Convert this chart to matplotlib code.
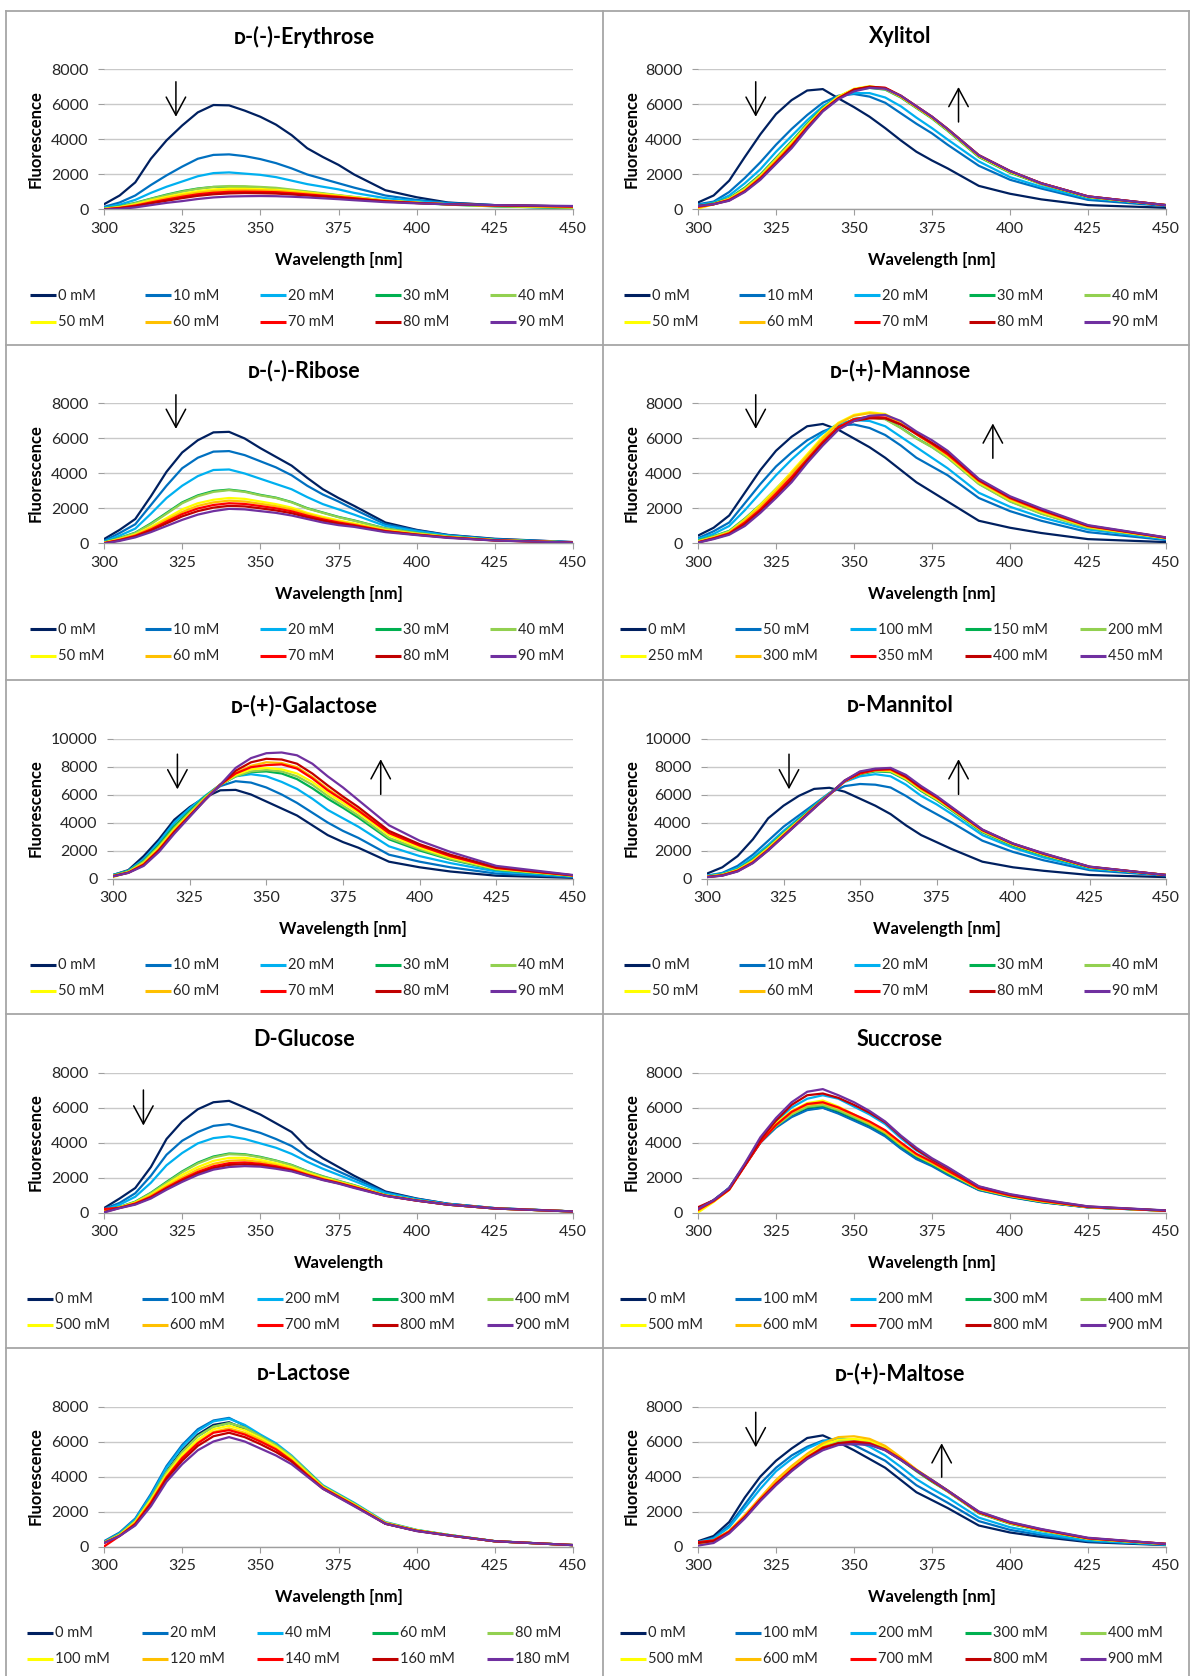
import matplotlib
matplotlib.use("Agg")

import matplotlib.pyplot as plt
from matplotlib.lines import Line2D

plt.rcParams["font.family"] = ["Lato", "DejaVu Sans"]

# ---------------------------------------------------------
# data: emission spectra, fluorescence vs wavelength [nm]
# ---------------------------------------------------------
wavelength = [300, 305, 310, 315, 320, 325, 330, 335, 340, 345, 350,
              355, 360, 365, 370, 375, 380, 390, 400, 410, 425, 450]

series_colors = ["#002060", "#0070C0", "#00B0F0", "#00B050", "#92D050",
                 "#FFFF00", "#FFC000", "#FF0000", "#C00000", "#7030A0"]

erythrose_conc = [0, 10, 20, 30, 40, 50, 60, 70, 80, 90]
erythrose = [
    [300, 800, 1550, 2900, 3950, 4800, 5550, 5970, 5950, 5650, 5300, 4850, 4250, 3500, 3000, 2550, 2000, 1100, 700, 400, 250, 170],
    [150, 400, 800, 1400, 1950, 2450, 2900, 3120, 3150, 3050, 2880, 2650, 2350, 2000, 1750, 1500, 1250, 800, 550, 380, 250, 170],
    [100, 280, 550, 950, 1300, 1600, 1900, 2080, 2120, 2050, 1980, 1850, 1650, 1450, 1300, 1150, 950, 650, 480, 330, 200, 60],
    [60, 180, 380, 620, 850, 1050, 1200, 1290, 1300, 1290, 1250, 1200, 1100, 1000, 900, 800, 700, 500, 380, 280, 180, 80],
    [50, 160, 360, 600, 820, 1020, 1180, 1290, 1340, 1330, 1290, 1240, 1140, 1030, 930, 820, 720, 510, 390, 290, 190, 100],
    [30, 130, 300, 520, 720, 900, 1050, 1150, 1200, 1200, 1170, 1130, 1060, 970, 880, 790, 700, 500, 390, 300, 210, 130],
    [20, 110, 260, 460, 650, 820, 960, 1060, 1110, 1120, 1100, 1070, 1000, 920, 840, 760, 670, 490, 380, 300, 220, 150],
    [10, 90, 220, 400, 570, 730, 870, 960, 1010, 1020, 1010, 990, 930, 860, 790, 720, 640, 470, 370, 300, 230, 170],
    [0, 70, 190, 350, 500, 650, 780, 870, 920, 940, 930, 910, 860, 800, 740, 680, 610, 460, 370, 300, 240, 180],
    [0, 30, 120, 250, 380, 480, 600, 690, 740, 760, 770, 760, 730, 690, 640, 590, 530, 420, 350, 300, 250, 200],
]

xylitol_conc = [0, 10, 20, 30, 40, 50, 60, 70, 80, 90]
xylitol = [
    [400, 800, 1650, 3000, 4300, 5450, 6250, 6800, 6880, 6350, 5850, 5300, 4650, 3950, 3300, 2800, 2350, 1350, 900, 580, 250, 100],
    [300, 450, 1000, 1800, 2700, 3700, 4600, 5400, 6100, 6500, 6600, 6450, 6100, 5500, 4900, 4350, 3700, 2500, 1700, 1200, 550, 200],
    [250, 400, 800, 1500, 2300, 3300, 4200, 5100, 5900, 6450, 6650, 6650, 6400, 5900, 5250, 4650, 4000, 2750, 1850, 1300, 650, 250],
    [200, 350, 650, 1250, 2000, 2950, 3900, 4900, 5800, 6450, 6850, 6950, 6850, 6400, 5800, 5200, 4500, 3000, 2100, 1450, 700, 250],
    [150, 330, 620, 1200, 1950, 2900, 3850, 4850, 5750, 6450, 6850, 6980, 6880, 6450, 5850, 5250, 4550, 3050, 2150, 1480, 720, 250],
    [50, 300, 600, 1150, 1900, 2850, 3800, 4800, 5750, 6450, 6900, 7050, 6900, 6450, 5850, 5250, 4550, 3050, 2150, 1480, 720, 250],
    [100, 300, 580, 1100, 1850, 2800, 3700, 4750, 5700, 6400, 6850, 7000, 6900, 6450, 5850, 5250, 4600, 3100, 2180, 1500, 740, 250],
    [150, 300, 550, 1050, 1800, 2700, 3650, 4700, 5650, 6350, 6850, 7000, 6950, 6500, 5900, 5300, 4600, 3100, 2200, 1500, 750, 250],
    [200, 300, 520, 1030, 1750, 2650, 3600, 4650, 5650, 6350, 6850, 7020, 6950, 6500, 5900, 5300, 4600, 3100, 2200, 1500, 750, 250],
    [200, 300, 500, 1000, 1700, 2600, 3500, 4600, 5600, 6300, 6750, 6950, 6900, 6500, 5900, 5300, 4600, 3100, 2200, 1500, 750, 250],
]

ribose_conc = [0, 10, 20, 30, 40, 50, 60, 70, 80, 90]
ribose = [
    [250, 780, 1400, 2700, 4100, 5200, 5900, 6350, 6380, 6000, 5450, 4950, 4450, 3750, 3100, 2600, 2150, 1200, 780, 490, 270, 80],
    [150, 600, 1100, 2200, 3300, 4300, 4900, 5250, 5280, 5050, 4700, 4350, 3900, 3300, 2800, 2400, 1950, 1100, 750, 480, 250, 80],
    [100, 450, 850, 1700, 2600, 3300, 3850, 4200, 4230, 4000, 3700, 3400, 3100, 2650, 2250, 1950, 1650, 1000, 700, 450, 220, 60],
    [70, 320, 620, 1150, 1750, 2350, 2750, 3000, 3080, 2980, 2780, 2620, 2370, 2020, 1770, 1520, 1320, 860, 610, 400, 200, 60],
    [50, 300, 600, 1100, 1700, 2300, 2700, 2950, 3050, 2950, 2750, 2600, 2350, 2000, 1750, 1500, 1300, 850, 600, 400, 200, 60],
    [40, 250, 520, 950, 1450, 1950, 2300, 2500, 2600, 2550, 2400, 2250, 2050, 1750, 1520, 1320, 1150, 770, 550, 370, 190, 55],
    [30, 230, 480, 880, 1350, 1800, 2150, 2350, 2450, 2400, 2270, 2130, 1950, 1680, 1450, 1260, 1100, 740, 530, 360, 185, 55],
    [20, 200, 440, 800, 1250, 1680, 2000, 2200, 2300, 2260, 2140, 2010, 1840, 1590, 1380, 1200, 1050, 710, 510, 350, 180, 50],
    [10, 180, 400, 740, 1150, 1550, 1850, 2050, 2150, 2120, 2010, 1890, 1730, 1500, 1300, 1130, 1000, 690, 500, 340, 175, 50],
    [0, 150, 350, 650, 1000, 1350, 1650, 1850, 1980, 1950, 1850, 1750, 1600, 1400, 1200, 1050, 950, 650, 480, 320, 170, 50],
]

mannose_conc = [0, 50, 100, 150, 200, 250, 300, 350, 400, 450]
mannose = [
    [450, 900, 1600, 2900, 4200, 5300, 6100, 6700, 6830, 6500, 6000, 5500, 4900, 4200, 3500, 2950, 2400, 1300, 900, 600, 250, 80],
    [300, 700, 1200, 2300, 3400, 4400, 5200, 5900, 6400, 6750, 6800, 6600, 6200, 5600, 4900, 4400, 3900, 2600, 1850, 1300, 650, 200],
    [250, 550, 1000, 1900, 2900, 3900, 4800, 5600, 6300, 6850, 7050, 7000, 6700, 6100, 5500, 4900, 4300, 2900, 2100, 1500, 800, 250],
    [180, 420, 720, 1420, 2220, 3120, 4030, 4930, 5930, 6630, 7120, 7220, 7120, 6620, 6020, 5520, 4920, 3420, 2420, 1720, 910, 300],
    [150, 400, 700, 1400, 2200, 3100, 4000, 4900, 5900, 6600, 7100, 7200, 7100, 6600, 6000, 5500, 4900, 3400, 2400, 1700, 900, 300],
    [100, 350, 650, 1350, 2200, 3100, 4100, 5100, 6100, 6900, 7350, 7500, 7400, 6900, 6250, 5650, 5000, 3500, 2500, 1800, 950, 300],
    [80, 320, 620, 1300, 2100, 3000, 4000, 5000, 6000, 6850, 7300, 7450, 7350, 6850, 6250, 5650, 5050, 3550, 2550, 1850, 970, 320],
    [70, 300, 580, 1200, 1950, 2850, 3800, 4800, 5800, 6650, 7100, 7250, 7200, 6800, 6250, 5700, 5100, 3600, 2600, 1900, 1000, 330],
    [60, 280, 540, 1100, 1850, 2700, 3650, 4700, 5700, 6550, 7000, 7150, 7150, 6800, 6300, 5750, 5200, 3650, 2650, 1950, 1020, 340],
    [50, 250, 500, 1000, 1750, 2600, 3500, 4600, 5600, 6500, 7000, 7300, 7350, 7000, 6400, 5900, 5300, 3700, 2700, 2000, 1050, 350],
]

galactose_conc = [0, 10, 20, 30, 40, 50, 60, 70, 80, 90]
galactose = [
    [250, 600, 1600, 2800, 4200, 5100, 5800, 6300, 6330, 6000, 5500, 5000, 4500, 3800, 3100, 2600, 2200, 1200, 800, 500, 200, 50],
    [250, 550, 1400, 2600, 4000, 5000, 5800, 6600, 6950, 6850, 6500, 6000, 5400, 4700, 4000, 3400, 2900, 1700, 1200, 800, 350, 100],
    [250, 550, 1350, 2600, 4000, 5000, 5900, 6700, 7300, 7450, 7300, 6900, 6400, 5700, 4900, 4300, 3700, 2300, 1600, 1100, 500, 150],
    [220, 520, 1250, 2400, 3750, 4800, 5850, 6700, 7300, 7600, 7650, 7500, 7100, 6450, 5700, 5050, 4350, 2800, 2000, 1350, 620, 180],
    [200, 500, 1200, 2300, 3600, 4700, 5800, 6700, 7300, 7650, 7750, 7650, 7300, 6700, 5900, 5200, 4500, 2900, 2100, 1400, 650, 200],
    [100, 450, 1100, 2200, 3500, 4600, 5700, 6700, 7400, 7800, 7900, 7800, 7500, 6900, 6100, 5400, 4700, 3100, 2200, 1500, 700, 200],
    [180, 430, 1050, 2100, 3400, 4500, 5650, 6700, 7550, 8050, 8300, 8250, 7950, 7250, 6400, 5650, 4900, 3250, 2350, 1600, 750, 220],
    [170, 420, 1000, 2050, 3350, 4500, 5650, 6700, 7500, 7950, 8100, 8150, 7850, 7150, 6300, 5600, 4850, 3250, 2350, 1600, 750, 220],
    [160, 410, 950, 2000, 3300, 4450, 5600, 6700, 7700, 8300, 8550, 8500, 8200, 7500, 6650, 5850, 5100, 3400, 2450, 1700, 800, 230],
    [150, 400, 900, 1900, 3200, 4400, 5600, 6700, 7900, 8600, 8950, 9000, 8800, 8200, 7300, 6500, 5600, 3800, 2700, 1900, 900, 250],
]

mannitol_conc = [0, 10, 20, 30, 40, 50, 60, 70, 80, 90]
mannitol = [
    [350, 800, 1600, 2800, 4300, 5200, 5900, 6400, 6480, 6200, 5700, 5200, 4600, 3800, 3100, 2600, 2100, 1200, 800, 550, 250, 100],
    [200, 400, 900, 1700, 2700, 3700, 4500, 5300, 6100, 6600, 6750, 6700, 6500, 5900, 5200, 4600, 4000, 2700, 1900, 1300, 600, 200],
    [200, 350, 750, 1500, 2400, 3400, 4300, 5200, 6100, 6900, 7300, 7450, 7300, 6700, 5900, 5300, 4600, 3100, 2200, 1500, 700, 250],
    [150, 300, 650, 1350, 2250, 3250, 4200, 5150, 6050, 6950, 7450, 7650, 7600, 7050, 6250, 5600, 4850, 3300, 2350, 1650, 780, 250],
    [140, 280, 630, 1300, 2200, 3200, 4150, 5100, 6050, 6950, 7500, 7700, 7650, 7100, 6300, 5650, 4900, 3350, 2400, 1700, 800, 250],
    [130, 260, 600, 1250, 2150, 3150, 4100, 5050, 6000, 6950, 7500, 7750, 7700, 7150, 6350, 5700, 4950, 3400, 2430, 1720, 810, 250],
    [120, 240, 580, 1200, 2100, 3100, 4050, 5050, 6000, 6950, 7550, 7750, 7750, 7200, 6400, 5750, 5000, 3420, 2450, 1740, 820, 250],
    [110, 230, 550, 1150, 2050, 3050, 4050, 5050, 6000, 6950, 7500, 7750, 7800, 7250, 6450, 5800, 5000, 3450, 2480, 1760, 830, 250],
    [105, 210, 520, 1120, 2020, 3020, 4020, 5020, 6000, 7000, 7600, 7800, 7850, 7300, 6500, 5850, 5050, 3480, 2490, 1780, 840, 250],
    [100, 200, 500, 1100, 2000, 3000, 4000, 5000, 6000, 7000, 7650, 7850, 7900, 7400, 6600, 5900, 5100, 3500, 2500, 1800, 850, 250],
]

glucose_conc = [0, 100, 200, 300, 400, 500, 600, 700, 800, 900]
glucose = [
    [250, 800, 1400, 2600, 4200, 5200, 5900, 6300, 6380, 6000, 5600, 5100, 4600, 3700, 3100, 2600, 2100, 1200, 800, 500, 250, 60],
    [200, 550, 1100, 2100, 3300, 4100, 4600, 4950, 5050, 4800, 4550, 4200, 3800, 3200, 2750, 2350, 1950, 1150, 780, 500, 250, 60],
    [150, 450, 900, 1700, 2700, 3400, 3950, 4250, 4350, 4200, 3950, 3700, 3350, 2900, 2500, 2150, 1800, 1100, 750, 480, 240, 60],
    [110, 320, 620, 1130, 1750, 2350, 2850, 3200, 3370, 3330, 3180, 2970, 2720, 2370, 2070, 1810, 1560, 1000, 700, 450, 230, 60],
    [100, 300, 600, 1100, 1700, 2300, 2800, 3150, 3330, 3300, 3150, 2950, 2700, 2350, 2050, 1800, 1550, 1000, 700, 450, 230, 60],
    [80, 290, 570, 1020, 1600, 2150, 2600, 2950, 3120, 3130, 3000, 2820, 2590, 2270, 1990, 1750, 1510, 980, 690, 450, 230, 60],
    [60, 280, 540, 960, 1500, 2000, 2450, 2780, 2960, 2990, 2880, 2720, 2500, 2200, 1940, 1720, 1480, 970, 690, 450, 230, 60],
    [200, 270, 510, 900, 1420, 1900, 2320, 2640, 2820, 2860, 2780, 2640, 2440, 2160, 1900, 1690, 1450, 960, 680, 450, 230, 60],
    [30, 260, 480, 850, 1360, 1820, 2230, 2540, 2720, 2760, 2700, 2570, 2390, 2120, 1870, 1670, 1430, 960, 680, 450, 230, 60],
    [0, 250, 450, 800, 1300, 1750, 2150, 2450, 2600, 2650, 2620, 2500, 2350, 2100, 1850, 1650, 1400, 950, 680, 450, 230, 60],
]

succrose_conc = [0, 100, 200, 300, 400, 500, 600, 700, 800, 900]
succrose = [
    [200, 700, 1400, 2700, 4000, 4900, 5500, 5900, 6000, 5700, 5300, 4900, 4400, 3700, 3100, 2700, 2200, 1300, 900, 600, 300, 100],
    [200, 700, 1400, 2700, 4000, 4850, 5450, 5850, 5980, 5650, 5250, 4850, 4350, 3650, 3050, 2650, 2150, 1280, 880, 590, 290, 100],
    [200, 700, 1400, 2750, 4200, 5200, 6000, 6500, 6700, 6500, 6050, 5600, 5050, 4250, 3550, 3000, 2500, 1450, 1000, 700, 330, 110],
    [150, 650, 1350, 2700, 4050, 4950, 5600, 6000, 6100, 5800, 5400, 5000, 4500, 3800, 3200, 2750, 2250, 1330, 920, 620, 300, 100],
    [150, 650, 1350, 2700, 4050, 4950, 5600, 6050, 6150, 5850, 5450, 5050, 4550, 3850, 3250, 2800, 2300, 1350, 940, 640, 310, 100],
    [0, 600, 1300, 2700, 4100, 5100, 5800, 6250, 6400, 6050, 5600, 5150, 4650, 3950, 3300, 2850, 2350, 1380, 960, 660, 320, 100],
    [100, 650, 1350, 2700, 4050, 5000, 5700, 6150, 6250, 5950, 5550, 5100, 4600, 3900, 3280, 2830, 2330, 1370, 950, 650, 310, 100],
    [150, 650, 1300, 2650, 4000, 5000, 5750, 6200, 6300, 6000, 5600, 5200, 4700, 4000, 3350, 2900, 2400, 1400, 980, 680, 320, 100],
    [300, 700, 1350, 2700, 4150, 5250, 6150, 6700, 6800, 6550, 6150, 5700, 5150, 4350, 3600, 3050, 2550, 1480, 1020, 720, 340, 110],
    [200, 700, 1400, 2800, 4300, 5400, 6300, 6900, 7050, 6700, 6300, 5800, 5200, 4400, 3700, 3100, 2600, 1500, 1050, 750, 350, 120],
]

lactose_conc = [0, 20, 40, 60, 80, 100, 120, 140, 160, 180]
lactose = [
    [250, 700, 1500, 2800, 4300, 5500, 6400, 6950, 7100, 6700, 6200, 5700, 5000, 4200, 3400, 2900, 2400, 1300, 900, 650, 300, 80],
    [300, 800, 1600, 3000, 4600, 5800, 6700, 7200, 7350, 6900, 6300, 5800, 5100, 4250, 3450, 2950, 2450, 1350, 920, 660, 300, 80],
    [250, 750, 1550, 2900, 4500, 5700, 6600, 7150, 7300, 6950, 6400, 5900, 5200, 4350, 3500, 3000, 2500, 1400, 950, 670, 310, 80],
    [230, 700, 1450, 2750, 4250, 5400, 6300, 6850, 7050, 6800, 6300, 5800, 5100, 4300, 3450, 2950, 2450, 1350, 930, 660, 300, 80],
    [230, 700, 1450, 2750, 4250, 5400, 6300, 6850, 7050, 6800, 6300, 5800, 5150, 4300, 3450, 2950, 2450, 1380, 940, 660, 300, 80],
    [220, 650, 1400, 2650, 4100, 5250, 6100, 6700, 6900, 6650, 6200, 5700, 5050, 4200, 3400, 2900, 2400, 1330, 920, 650, 300, 80],
    [210, 630, 1350, 2550, 4000, 5100, 5950, 6550, 6750, 6500, 6100, 5600, 4950, 4150, 3350, 2880, 2380, 1320, 910, 650, 300, 80],
    [0, 600, 1300, 2500, 3950, 5050, 5900, 6500, 6650, 6400, 6000, 5550, 4900, 4100, 3350, 2850, 2350, 1310, 900, 640, 300, 80],
    [200, 610, 1250, 2400, 3850, 4900, 5750, 6300, 6500, 6250, 5850, 5400, 4850, 4050, 3300, 2820, 2330, 1300, 890, 640, 300, 80],
    [200, 600, 1200, 2300, 3700, 4700, 5500, 6000, 6250, 6000, 5600, 5200, 4700, 4000, 3300, 2800, 2300, 1300, 880, 640, 300, 80],
]

maltose_conc = [0, 100, 200, 300, 400, 500, 600, 700, 800, 900]
maltose = [
    [300, 600, 1400, 2800, 4000, 4900, 5600, 6200, 6350, 5950, 5500, 5000, 4500, 3800, 3100, 2650, 2200, 1200, 800, 550, 250, 80],
    [250, 500, 1200, 2400, 3600, 4500, 5200, 5700, 6050, 6100, 5800, 5350, 4900, 4200, 3500, 3000, 2500, 1450, 950, 650, 300, 100],
    [250, 450, 1100, 2200, 3300, 4300, 5000, 5600, 6000, 6200, 6050, 5700, 5200, 4550, 3850, 3300, 2800, 1650, 1100, 750, 350, 100],
    [150, 300, 850, 1750, 2750, 3700, 4500, 5200, 5750, 5950, 6000, 5900, 5550, 4950, 4300, 3700, 3150, 1900, 1300, 900, 430, 130],
    [150, 300, 850, 1750, 2750, 3700, 4500, 5200, 5750, 6000, 6050, 5950, 5600, 5000, 4350, 3750, 3150, 1930, 1320, 920, 440, 140],
    [100, 300, 850, 1750, 2750, 3750, 4550, 5250, 5800, 6100, 6150, 6050, 5700, 5050, 4380, 3780, 3180, 1950, 1340, 940, 450, 140],
    [200, 350, 900, 1800, 2800, 3800, 4600, 5300, 5900, 6250, 6300, 6150, 5750, 5100, 4400, 3800, 3200, 1950, 1350, 950, 450, 150],
    [250, 350, 850, 1700, 2700, 3600, 4400, 5100, 5650, 5900, 6000, 5900, 5550, 5000, 4350, 3750, 3180, 1950, 1360, 960, 470, 150],
    [200, 300, 800, 1650, 2650, 3550, 4350, 5050, 5600, 5900, 5950, 5850, 5500, 4950, 4350, 3780, 3200, 1980, 1380, 980, 480, 150],
    [50, 200, 750, 1600, 2600, 3500, 4300, 5000, 5500, 5800, 5850, 5800, 5500, 4950, 4350, 3800, 3200, 2000, 1400, 1000, 500, 150],
]

# ---------------------------------------------------------
# page layout (pixels on a 1190 x 1676 canvas)
# ---------------------------------------------------------
W, H = 1190, 1676
fig = plt.figure(figsize=(W / 100, H / 100), dpi=100)
fig.patch.set_facecolor("white")

row_top = [69.5, 403.5, 738.5, 1072.5, 1406.5]
plot_h = 140
col_x0 = [104, 698]        # plot left edge, 8000-scale panels
col_x1 = [573, 1166]
wide_shift = 9             # 10000-scale panels need room for 5-digit labels
panel_x0 = [6, 602]

INK = "#262626"
GRID = "#C9C9C9"
AXIS = "#9E9E9E"

# title, concentrations, curves, y max, x label, arrows (x, from, to), legend start x
panels = [
    ("\u1d05-(-)-Erythrose", erythrose_conc, erythrose, 8000, "Wavelength [nm]",
     [(323, 7300, 5300)], 30),
    ("Xylitol", xylitol_conc, xylitol, 8000, "Wavelength [nm]",
     [(318.5, 7300, 5300), (383.5, 5000, 7000)], 624),
    ("\u1d05-(-)-Ribose", ribose_conc, ribose, 8000, "Wavelength [nm]",
     [(323, 8500, 6550)], 30),
    ("\u1d05-(+)-Mannose", mannose_conc, mannose, 8000, "Wavelength [nm]",
     [(318.5, 8500, 6550), (394.5, 4870, 6860)], 620),
    ("\u1d05-(+)-Galactose", galactose_conc, galactose, 10000, "Wavelength [nm]",
     [(321, 8880, 6370), (387.3, 6010, 8520)], 30),
    ("\u1d05-Mannitol", mannitol_conc, mannitol, 10000, "Wavelength [nm]",
     [(326.8, 8880, 6370), (382.2, 6010, 8520)], 624),
    ("D-Glucose", glucose_conc, glucose, 8000, "Wavelength",
     [(312.6, 7000, 4970)], 27),
    ("Succrose", succrose_conc, succrose, 8000, "Wavelength [nm]", [], 620),
    ("\u1d05-Lactose", lactose_conc, lactose, 8000, "Wavelength [nm]", [], 27),
    ("\u1d05-(+)-Maltose", maltose_conc, maltose, 8000, "Wavelength [nm]",
     [(318.5, 7670, 5670), (378.1, 3960, 5900)], 620),
]


def fx(x):
    return x / W


def fy(y):
    return 1 - y / H


for k, (title, conc, curves, ymax, xlab, arrows, leg_x) in enumerate(panels):
    row, col = divmod(k, 2)
    top = row_top[row]
    bottom = top + plot_h
    x0 = col_x0[col] + (wide_shift if ymax > 8000 else 0)
    x1 = col_x1[col]

    ax = fig.add_axes([fx(x0), fy(bottom), (x1 - x0) / W, plot_h / H])
    for c, ys in enumerate(curves):
        ax.plot(wavelength, ys, color=series_colors[c], lw=1.6,
                solid_joinstyle="round", zorder=3 + c)

    ax.set_xlim(300, 450)
    ax.set_ylim(0, ymax)
    ax.set_xticks(range(300, 451, 25))
    ax.set_yticks(range(0, ymax + 1, 2000))
    ax.yaxis.grid(True, color=GRID, lw=1.0)
    ax.set_axisbelow(True)
    for side in ("top", "right", "left"):
        ax.spines[side].set_visible(False)
    ax.spines["bottom"].set_color(AXIS)
    ax.spines["bottom"].set_linewidth(1.0)
    ax.tick_params(axis="both", direction="out", length=4, width=0.8,
                   color=AXIS, labelsize=11.5, labelcolor=INK)
    ax.tick_params(axis="y", pad=7)
    ax.tick_params(axis="x", pad=5)
    ax.set_facecolor("none")

    for ax_x, y_from, y_to in arrows:
        ax.annotate("", xy=(ax_x, y_to), xytext=(ax_x, y_from),
                    arrowprops=dict(arrowstyle="->,head_length=1.3,head_width=0.7",
                                    color="black", lw=1.1, shrinkA=0, shrinkB=0),
                    annotation_clip=False, zorder=20)

    # titles and axis captions
    px0 = panel_x0[col]
    fig.text(fx(px0 + 298), fy(top - 33), title, ha="center", va="center",
             fontsize=15.5, fontweight="bold", color="black")
    fig.text(fx((x0 + x1) / 2), fy(bottom + 50), xlab, ha="center", va="center",
             fontsize=12, fontweight="bold", color="black")
    fig.text(fx(px0 + 30), fy((top + bottom) / 2), "Fluorescence", rotation=90,
             ha="center", va="center", fontsize=12, fontweight="bold", color="black")

    # legend: two rows of five entries
    for i, cval in enumerate(conc):
        r, cc = divmod(i, 5)
        lx = leg_x + cc * 115
        ly = bottom + 86 + r * 26.5
        fig.add_artist(Line2D([fx(lx), fx(lx + 26)], [fy(ly), fy(ly)],
                              transform=fig.transFigure, color=series_colors[i],
                              lw=2.2, solid_capstyle="butt"))
        fig.text(fx(lx + 28), fy(ly), f"{cval} mM", ha="left", va="center",
                 fontsize=10.5, color=INK)

# panel frame lines
FRAME = "#A6A6A6"
for yy in [11, 345, 680, 1014.5, 1347.5]:
    fig.add_artist(Line2D([fx(6), fx(1189)], [fy(yy), fy(yy)],
                          transform=fig.transFigure, color=FRAME, lw=1.3))
for xx in [6, 602.5, 1189]:
    fig.add_artist(Line2D([fx(xx), fx(xx)], [fy(11), fy(H)],
                          transform=fig.transFigure, color=FRAME, lw=1.3))

fig.savefig("out.png", dpi=100)
